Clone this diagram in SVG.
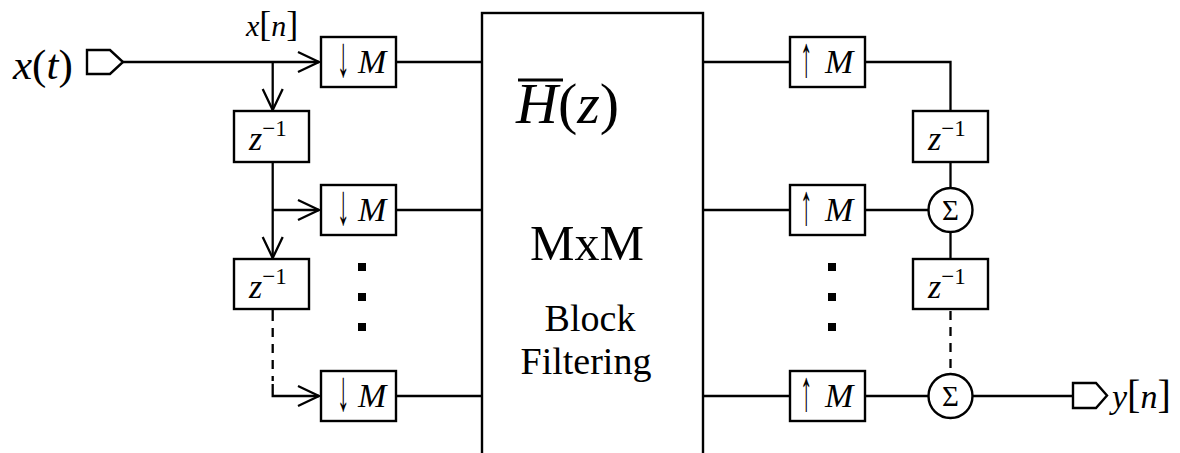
<svg xmlns="http://www.w3.org/2000/svg" width="1180" height="453" viewBox="0 0 1180 453">
<rect width="1180" height="453" fill="#fff"/>
<g id="connectors" fill="none" stroke="#000" stroke-width="2.3">
  <path d="M123,62 H319"/>
  <path d="M298,52 L319,62 L298,72"/>
  <path d="M272.7,62 V110"/>
  <path d="M262.7,89 L272.7,110 L282.7,89"/>
  <path d="M272.7,162 V258"/>
  <path d="M262.7,237 L272.7,258 L282.7,237"/>
  <path d="M272.7,210 H319"/>
  <path d="M298,200 L319,210 L298,220"/>
  <path d="M272.7,309 V321"/>
  <path d="M272.7,328 V381" stroke-dasharray="9,7"/>
  <path d="M272.7,384 V396 H319"/>
  <path d="M298,386 L319,396 L298,406"/>
  <path d="M396,62 H482 M396,210 H482 M396,396 H485"/>
  <path d="M703,62 H790 M703,210 H790 M703,396 H790"/>
  <path d="M865,62 H950.5 V111"/>
  <path d="M950.5,162 V188"/>
  <path d="M865,210 H928.5"/>
  <path d="M950.5,232 V259"/>
  <path d="M950.5,311 V374" stroke-dasharray="9,7"/>
  <path d="M865,396 H928.5"/>
  <path d="M972.5,396 H1073"/>
</g>
<g id="input">
  <path d="M87,50 H110 L123,62 L110,74 H87 Z" fill="#fff" stroke="#000" stroke-width="2.4"/>
  <text x="13" y="79" font-size="43" font-family="Liberation Serif"><tspan font-style="italic">x</tspan>(<tspan font-style="italic">t</tspan>)</text>
  <text x="246" y="36" font-size="30" font-family="Liberation Serif"><tspan font-style="italic">x</tspan><tspan font-size="36">[</tspan><tspan font-style="italic">n</tspan><tspan font-size="36">]</tspan></text>
</g>
<g id="down1">
  <rect x="321" y="37" width="75" height="50" fill="#fff" stroke="#000" stroke-width="2.4"/>
  <text transform="translate(337,76) scale(0.7,1.6)" font-size="36" font-family="Liberation Serif">↓</text>
  <text x="358" y="73" font-size="34" font-style="italic" font-family="Liberation Serif">M</text>
</g>
<g id="down2">
  <rect x="321" y="185" width="75" height="50" fill="#fff" stroke="#000" stroke-width="2.4"/>
  <text transform="translate(337,224) scale(0.7,1.6)" font-size="36" font-family="Liberation Serif">↓</text>
  <text x="358" y="221" font-size="34" font-style="italic" font-family="Liberation Serif">M</text>
</g>
<g id="down3">
  <rect x="321" y="371" width="75" height="50" fill="#fff" stroke="#000" stroke-width="2.4"/>
  <text transform="translate(337,410) scale(0.7,1.6)" font-size="36" font-family="Liberation Serif">↓</text>
  <text x="358" y="407" font-size="34" font-style="italic" font-family="Liberation Serif">M</text>
</g>
<g id="delayL1">
  <rect x="234" y="111" width="75" height="51" fill="#fff" stroke="#000" stroke-width="2.4"/>
  <text x="249" y="150" font-size="34" font-family="Liberation Serif"><tspan font-style="italic">z</tspan><tspan font-size="23" dy="-14">−1</tspan></text>
</g>
<g id="delayL2">
  <rect x="234" y="259" width="75" height="50" fill="#fff" stroke="#000" stroke-width="2.4"/>
  <text x="249" y="298" font-size="34" font-family="Liberation Serif"><tspan font-style="italic">z</tspan><tspan font-size="23" dy="-14">−1</tspan></text>
</g>
<g id="dotsL" fill="#000">
  <rect x="358" y="263" width="8" height="8"/>
  <rect x="358" y="293" width="8" height="8"/>
  <rect x="358" y="323" width="8" height="8"/>
</g>
<g id="block">
  <rect x="482" y="13" width="221" height="460" fill="#fff" stroke="#000" stroke-width="2.4"/>
  <line x1="518" y1="80" x2="563" y2="80" stroke="#000" stroke-width="3"/>
  <text x="516" y="123" font-size="58" font-family="Liberation Serif"><tspan font-style="italic">H</tspan>(<tspan font-style="italic">z</tspan>)</text>
  <text x="587" y="260" font-size="50" text-anchor="middle" font-family="Liberation Serif">MxM</text>
  <text x="590" y="331" font-size="38" text-anchor="middle" font-family="Liberation Serif">Block</text>
  <text x="586" y="374" font-size="38" text-anchor="middle" font-family="Liberation Serif">Filtering</text>
</g>
<g id="up1">
  <rect x="790" y="37" width="75" height="50" fill="#fff" stroke="#000" stroke-width="2.4"/>
  <text transform="translate(800,76) scale(0.7,1.6)" font-size="36" font-family="Liberation Serif">↑</text>
  <text x="825" y="73" font-size="34" font-style="italic" font-family="Liberation Serif">M</text>
</g>
<g id="up2">
  <rect x="790" y="185" width="75" height="50" fill="#fff" stroke="#000" stroke-width="2.4"/>
  <text transform="translate(800,224) scale(0.7,1.6)" font-size="36" font-family="Liberation Serif">↑</text>
  <text x="825" y="221" font-size="34" font-style="italic" font-family="Liberation Serif">M</text>
</g>
<g id="up3">
  <rect x="790" y="371" width="75" height="50" fill="#fff" stroke="#000" stroke-width="2.4"/>
  <text transform="translate(800,410) scale(0.7,1.6)" font-size="36" font-family="Liberation Serif">↑</text>
  <text x="825" y="407" font-size="34" font-style="italic" font-family="Liberation Serif">M</text>
</g>
<g id="dotsR" fill="#000">
  <rect x="828" y="263" width="8" height="8"/>
  <rect x="828" y="293" width="8" height="8"/>
  <rect x="828" y="323" width="8" height="8"/>
</g>
<g id="delayR1">
  <rect x="913" y="111" width="75" height="51" fill="#fff" stroke="#000" stroke-width="2.4"/>
  <text x="928" y="150" font-size="34" font-family="Liberation Serif"><tspan font-style="italic">z</tspan><tspan font-size="23" dy="-14">−1</tspan></text>
</g>
<g id="delayR2">
  <rect x="913" y="259" width="75" height="50" fill="#fff" stroke="#000" stroke-width="2.4"/>
  <text x="928" y="298" font-size="34" font-family="Liberation Serif"><tspan font-style="italic">z</tspan><tspan font-size="23" dy="-14">−1</tspan></text>
</g>
<g id="sum1">
  <circle cx="950.5" cy="210" r="22" fill="#fff" stroke="#000" stroke-width="2.4"/>
  <text x="950.5" y="219.5" font-size="29" text-anchor="middle" font-family="Liberation Serif">Σ</text>
</g>
<g id="sum2">
  <circle cx="950.5" cy="396" r="22" fill="#fff" stroke="#000" stroke-width="2.4"/>
  <text x="950.5" y="405.5" font-size="29" text-anchor="middle" font-family="Liberation Serif">Σ</text>
</g>
<g id="output">
  <path d="M1073,383 H1096 L1107,395.5 L1096,408 H1073 Z" fill="#fff" stroke="#000" stroke-width="2.4"/>
  <text x="1112" y="408" font-size="34" font-family="Liberation Serif"><tspan font-style="italic">y</tspan><tspan font-size="40">[</tspan><tspan font-style="italic">n</tspan><tspan font-size="40">]</tspan></text>
</g>
</svg>
